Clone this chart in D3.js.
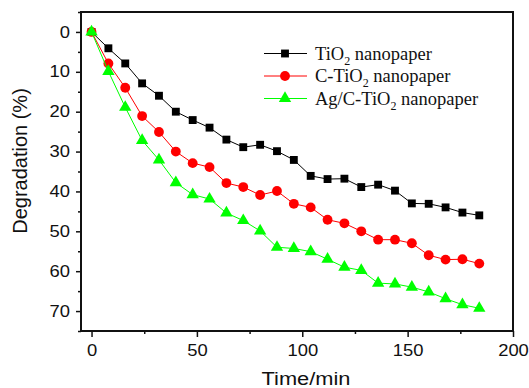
<!DOCTYPE html>
<html>
<head>
<meta charset="utf-8">
<script src="https://cdn.jsdelivr.net/npm/d3@7"></script>
<style>
  body { margin: 0; background: #fff; }
  svg { display: block; }
</style>
</head>
<body>
<svg id="chart" width="529" height="388"></svg>
<script>
// sampling times (min)
const times = [0, 8, 16, 24, 32, 40, 48, 56, 64, 72, 80, 88, 96, 104, 112, 120, 128, 136, 144, 152, 160, 168, 176, 184]

// degradation (%)
const tio2 = [0, 4.1, 7.9, 12.9, 16.0, 20.0, 22.1, 24.0, 27.0, 28.9, 28.3, 29.9, 32.1, 36.1, 36.9, 36.8, 38.9, 38.3, 39.8, 43.0, 43.1, 44.0, 45.3, 46.0]
const cTio2 = [0, 7.9, 14.0, 21.1, 25.1, 30.0, 32.9, 33.9, 37.9, 38.9, 40.9, 39.9, 43.1, 44.0, 47.1, 48.0, 50.0, 52.1, 52.1, 53.0, 56.0, 57.1, 57.0, 58.1]
const agCTio2 = [0, 9.9, 18.9, 27.2, 32.1, 37.8, 40.8, 41.9, 45.4, 47.3, 49.9, 54.0, 54.3, 55.1, 57.0, 59.0, 59.8, 63.0, 63.2, 64.0, 65.2, 66.9, 68.4, 69.3]

const xTicks = [0, 50, 100, 150, 200]
const xMinor = [25, 75, 125, 175]
const yTicks = [0, 10, 20, 30, 40, 50, 60, 70]
const yMinor = [-5, 5, 15, 25, 35, 45, 55, 65, 75]

const series = [
  { pre: 'TiO', post: ' nanopaper', values: tio2, color: '#000000', symbol: d3.symbolSquare, size: 62 },
  { pre: 'C-TiO', post: ' nanopaper', values: cTio2, color: '#ff0000', symbol: d3.symbolCircle, size: 76 },
  { pre: 'Ag/C-TiO', post: ' nanopaper', values: agCTio2, color: '#00ff00', symbol: d3.symbolTriangle, size: 66 },
]

const margin = { left: 81, top: 12, right: 16, bottom: 57 }
const W = 529, H = 388
const svg = d3.select('#chart')

const x = d3.scaleLinear().domain([-5, 200]).range([margin.left, W - margin.right])
const y = d3.scaleLinear().domain([-5, 75]).range([margin.top, H - margin.bottom])

const sans = 'Liberation Sans, Arial, sans-serif'
const serif = 'Liberation Serif, Times New Roman, serif'
const stretch = 1.15

// minor ticks
svg.append('g')
  .attr('transform', `translate(0,${y(75)})`)
  .call(d3.axisBottom(x).tickValues(xMinor).tickSize(3).tickFormat(''))
  .call(g => g.select('.domain').remove())
svg.append('g')
  .attr('transform', `translate(${x(-5)},0)`)
  .call(d3.axisLeft(y).tickValues(yMinor).tickSize(3).tickFormat(''))
  .call(g => g.select('.domain').remove())

// major ticks
const xAxis = svg.append('g')
  .attr('transform', `translate(0,${y(75)})`)
  .call(d3.axisBottom(x).tickValues(xTicks).tickSize(6).tickPadding(8))
const yAxis = svg.append('g')
  .attr('transform', `translate(${x(-5)},0)`)
  .call(d3.axisLeft(y).tickValues(yTicks).tickSize(5).tickPadding(6))

;[xAxis, yAxis].forEach(ax => {
  ax.select('.domain').remove()
  ax.selectAll('text')
    .attr('font-family', sans)
    .attr('font-size', 16)
    .attr('fill', '#111')
    .each(function () {
      const t = d3.select(this)
      const tx = +t.attr('x') || 0
      t.attr('x', 0).attr('transform', `translate(${tx},0) scale(${stretch},1)`)
    })
})
svg.selectAll('.tick line').attr('stroke', '#111').attr('stroke-width', 1.5)

// frame
svg.append('rect')
  .attr('x', x(-5))
  .attr('y', y(-5))
  .attr('width', x(200) - x(-5))
  .attr('height', y(75) - y(-5))
  .attr('fill', 'none')
  .attr('stroke', '#111')
  .attr('stroke-width', 2)

// series
const line = d3.line().x((d, i) => x(times[i])).y(d => y(d))
series.forEach(s => {
  svg.append('path')
    .datum(s.values)
    .attr('fill', 'none')
    .attr('stroke', s.color)
    .attr('stroke-width', 1)
    .attr('d', line)
  svg.append('g').selectAll('path')
    .data(s.values)
    .join('path')
    .attr('transform', (d, i) => `translate(${x(times[i])},${y(d)})`)
    .attr('d', d3.symbol(s.symbol, s.size))
    .attr('fill', s.color)
})

// legend
const legend = svg.append('g')
series.forEach((s, i) => {
  const cy = 53.5 + i * 22.5
  legend.append('line')
    .attr('x1', 264).attr('x2', 307)
    .attr('y1', cy).attr('y2', cy)
    .attr('stroke', s.color)
    .attr('stroke-width', 1)
  legend.append('path')
    .attr('transform', `translate(285,${cy})`)
    .attr('d', d3.symbol(s.symbol, s.size))
    .attr('fill', s.color)
  const t = legend.append('text')
    .attr('x', 315)
    .attr('y', cy + 6)
    .attr('font-family', serif)
    .attr('font-size', 18.5)
    .attr('fill', '#111')
  t.append('tspan').text(s.pre)
  t.append('tspan').attr('dy', 5).attr('font-size', 12).text('2')
  t.append('tspan').attr('dy', -5).text(s.post)
})

// axis titles
svg.append('text')
  .attr('transform', `translate(306,385) scale(${stretch},1)`)
  .attr('text-anchor', 'middle')
  .attr('font-family', sans)
  .attr('font-size', 19)
  .attr('fill', '#111')
  .text('Time/min')

svg.append('text')
  .attr('transform', 'translate(27,161) rotate(-90)')
  .attr('text-anchor', 'middle')
  .attr('font-family', sans)
  .attr('font-size', 20)
  .attr('fill', '#111')
  .text('Degradation (%)')
</script>
</body>
</html>
